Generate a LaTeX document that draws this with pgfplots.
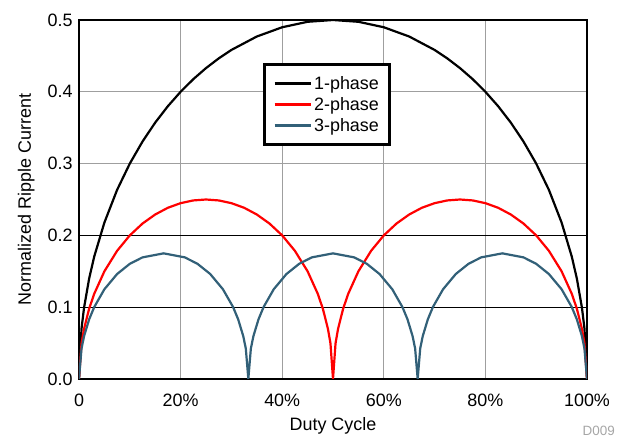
\documentclass[border=0pt]{standalone}
\usepackage{pgfplots}
\pgfplotsset{compat=1.18}
\usepackage{fontspec}
\setmainfont{Liberation Sans}
\definecolor{threeph}{RGB}{50,96,120}
\begin{document}
\begin{tikzpicture}
\useasboundingbox (-79bp,-58bp) rectangle (543bp,379bp);
\begin{axis}[
  at={(0,0)}, anchor=south west,
  scale only axis, width=508bp, height=359bp,
  xmin=0, xmax=100, ymin=0, ymax=0.5,
  xtick={0,20,40,60,80,100},
  xticklabels={0,20\%,40\%,60\%,80\%,100\%},
  ytick={0,0.1,0.2,0.3,0.4,0.5},
  yticklabel style={xshift=-3bp, /pgf/number format/.cd,fixed,fixed zerofill,precision=1},
  /pgf/number format/assume math mode=true,
  tick label style={font=\fontsize{18}{21}\selectfont},
  xticklabel style={yshift=-11bp},
  label style={font=\fontsize{18}{21}\selectfont},
  xlabel={Duty Cycle}, ylabel={Normalized Ripple Current},
  xlabel style={yshift=-4bp},
  ylabel style={yshift=6bp},
  major tick length=0pt,
  grid=major, major grid style={gray!75, line width=1.2bp},
  axis line style={line width=2.8bp},
  legend style={at={(axis cs:36.2,0.4405)}, anchor=north west, draw=black, line width=2.8bp,
    font=\fontsize{18}{21}\selectfont, inner xsep=9bp, inner ysep=10bp, row sep=2.5bp, legend cell align=left},
  legend image code/.code={\draw[#1, line width=2.8bp] (0bp,0bp) -- (36bp,0bp);},
  every axis plot/.append style={line width=2.2bp},
]
\draw[black, line width=0.7bp] (axis cs:0,0.1) -- (axis cs:100,0.1);
\draw[black, line width=0.7bp] (axis cs:0,0.2) -- (axis cs:100,0.2);
\addplot[black] coordinates {
(0,0) (0.5,0.0705) (1,0.0995) (2,0.14) (3,0.1706) (5,0.2179) (7.5,0.2634) (10,0.3) (12.5,0.3307) (15,0.3571) (17.5,0.3800) (20,0.4) (22.5,0.4176) (25,0.433) (27.5,0.4465) (30,0.4583) (35,0.4770) (40,0.4899) (45,0.4975) (50,0.5)
(55,0.4975) (60,0.4899) (65,0.4770) (70,0.4583) (72.5,0.4465) (75,0.433) (77.5,0.4176) (80,0.4) (82.5,0.3800) (85,0.3571) (87.5,0.3307) (90,0.3) (92.5,0.2634) (95,0.2179) (97,0.1706) (98,0.14) (99,0.0995) (99.5,0.0705) (100,0)
};
\addlegendentry{1-phase}
\addplot[red] coordinates {
(0,0) (0.5,0.0497) (1,0.07) (2,0.098) (3,0.1187) (5,0.15) (7.5,0.1785) (10,0.2) (12.5,0.2165) (15,0.2291) (17.5,0.2385) (20,0.2449) (22.5,0.2487) (25,0.25) (27.5,0.2487) (30,0.2449) (32.5,0.2385) (35,0.2291) (37.5,0.2165) (40,0.2) (42.5,0.1785) (45,0.15) (47,0.1187) (48,0.098) (49,0.07) (49.5,0.0497) (50,0)
(50.5,0.0497) (51,0.07) (52,0.098) (53,0.1187) (55,0.15) (57.5,0.1785) (60,0.2) (62.5,0.2165) (65,0.2291) (67.5,0.2385) (70,0.2449) (72.5,0.2487) (75,0.25) (77.5,0.2487) (80,0.2449) (82.5,0.2385) (85,0.2291) (87.5,0.2165) (90,0.2) (92.5,0.1785) (95,0.15) (97,0.1187) (98,0.098) (99,0.07) (99.5,0.0497) (100,0)
};
\addlegendentry{2-phase}
\addplot[threeph] coordinates {
(0,0) (0.5,0.0425) (1,0.0597) (2,0.0831) (3,0.1002) (5,0.125) (7.5,0.1462) (10,0.1604) (12.5,0.1694) (16.667,0.175) (20.833,0.1694) (23.333,0.1604) (25.833,0.1462) (28.333,0.125) (30.333,0.1002) (31.333,0.0831) (32.333,0.0597) (32.833,0.0425) (33.333,0)
(33.833,0.0425) (34.333,0.0597) (35.333,0.0831) (36.333,0.1002) (38.333,0.125) (40.833,0.1462) (43.333,0.1604) (45.833,0.1694) (50,0.175) (54.167,0.1694) (56.667,0.1604) (59.167,0.1462) (61.667,0.125) (63.667,0.1002) (64.667,0.0831) (65.667,0.0597) (66.167,0.0425) (66.667,0)
(67.167,0.0425) (67.667,0.0597) (68.667,0.0831) (69.667,0.1002) (71.667,0.125) (74.167,0.1462) (76.667,0.1604) (79.167,0.1694) (83.333,0.175) (87.5,0.1694) (90,0.1604) (92.5,0.1462) (95,0.125) (97,0.1002) (98,0.0831) (99,0.0597) (99.5,0.0425) (100,0)
};
\addlegendentry{3-phase}
\end{axis}
\node[anchor=south east, text=gray!70, font=\fontsize{13.5}{16}\selectfont, inner sep=0pt] at (536bp,-57bp) {D009};
\end{tikzpicture}
\end{document}
